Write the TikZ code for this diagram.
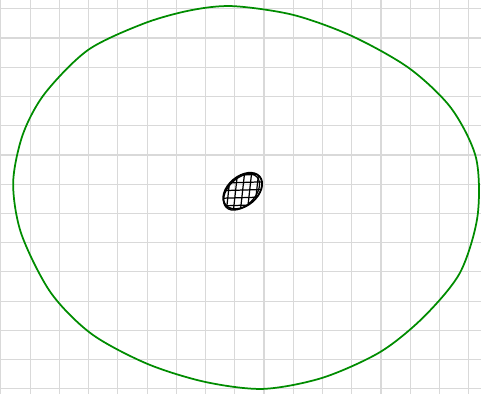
\documentclass[tikz,border=0pt]{standalone}
\begin{document}
\begin{tikzpicture}[scale=1]
    \useasboundingbox (-1.03, -0.17) rectangle (15.42, 13.3);
    \draw[gray!30, line width=1.1pt] (-1.03, -0.17) grid (15.42, 13.3);

    \draw[green!55!black, line width=1.7pt]
        plot[smooth cycle, tension=0.5] coordinates {(6.94, 13.09) (9.0, 12.79) (11.0, 12.07) (12.96, 10.97)
        (14.4, 9.6) (15.25, 7.9) (15.3, 5.9) (14.70, 3.97) (13.45, 2.45) (11.97, 1.26) (10.0, 0.38)
        (7.97, 0.0) (5.98, 0.24) (4.0, 0.86) (2.1, 1.88) (0.7, 3.3) (-0.3, 5.3) (-0.58, 7.04)
        (-0.25, 8.7) (0.5, 10.1) (1.98, 11.59) (3.9, 12.5) (5.5, 12.95)};

    \begin{scope}
        \clip[rotate around={40:(7.27, 6.77)}] (7.27, 6.77) ellipse (0.76 and 0.5);
        \foreach \i in {-4,...,4}
            \draw[line width=1.2pt] (7.27+0.24*\i-0.1, 5.9) -- (7.27+0.24*\i+0.1, 7.7);
        \foreach \j in {-4,...,4}
            \draw[line width=1.2pt] (6.2, 6.77+0.26*\j) -- (8.3, 6.77+0.26*\j+0.06);
    \end{scope}
    \draw[line width=1.8pt, rotate around={40:(7.27, 6.77)}] (7.27, 6.77) ellipse (0.76 and 0.5);
    \draw[line width=1.2pt, rotate around={45:(7.23, 6.73)}] (7.23, 6.73) ellipse (0.74 and 0.46);
\end{tikzpicture}
\end{document}
